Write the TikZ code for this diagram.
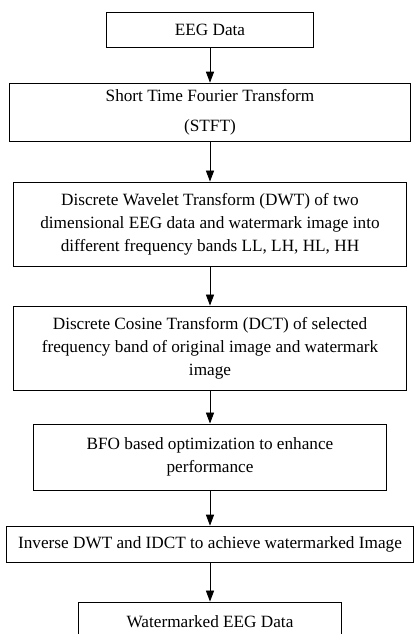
\documentclass[tikz,border=0pt]{standalone}
\usepackage{fontspec}
\setmainfont{Liberation Serif}
\usetikzlibrary{arrows.meta}
\tikzset{%
    block/.style={%
        draw, shape=rectangle, line width=0.6pt, align=center, inner sep=0pt,
        font=\fontsize{12}{16}\selectfont
    },
    flow/.style={%
        line width=0.6pt, -{Triangle[length=0.27cm, width=0.2cm]}
    }
}

\begin{document}
\begin{tikzpicture}[x=0.0245cm, y=-0.0245cm]
    \useasboundingbox (0,0) rectangle (414,634);
    \node[block, minimum width=5.07cm, minimum height=0.86cm] (eeg) at (210,29.5) {EEG Data};
    \node[block, minimum width=9.82cm, minimum height=1.42cm] (stft) at (210,112)
        {Short Time Fourier Transform\\[5pt] (STFT)};
    \node[block, minimum width=9.63cm, minimum height=2.06cm] (dwt) at (210,224)
        {Discrete Wavelet Transform (DWT) of two\\ dimensional EEG data and watermark image into\\ different frequency bands LL, LH, HL, HH};
    \node[block, minimum width=9.63cm, minimum height=2.06cm] (dct) at (210,348)
        {Discrete Cosine Transform (DCT) of selected\\ frequency band of original image and watermark\\ image};
    \node[block, minimum width=8.67cm, minimum height=1.62cm] (bfo) at (210,457)
        {BFO based optimization to enhance\\ performance};
    \node[block, minimum width=9.97cm, minimum height=0.88cm] (inv) at (210,544)
        {Inverse DWT and IDCT to achieve watermarked Image};
    \node[block, minimum width=6.44cm, minimum height=0.98cm] (out) at (210,622)
        {Watermarked EEG Data};
    \draw[flow] (eeg) -- (stft);
    \draw[flow] (stft) -- (dwt);
    \draw[flow] (dwt) -- (dct);
    \draw[flow] (dct) -- (bfo);
    \draw[flow] (bfo) -- (inv);
    \draw[flow] (inv) -- (out);
\end{tikzpicture}
\end{document}
